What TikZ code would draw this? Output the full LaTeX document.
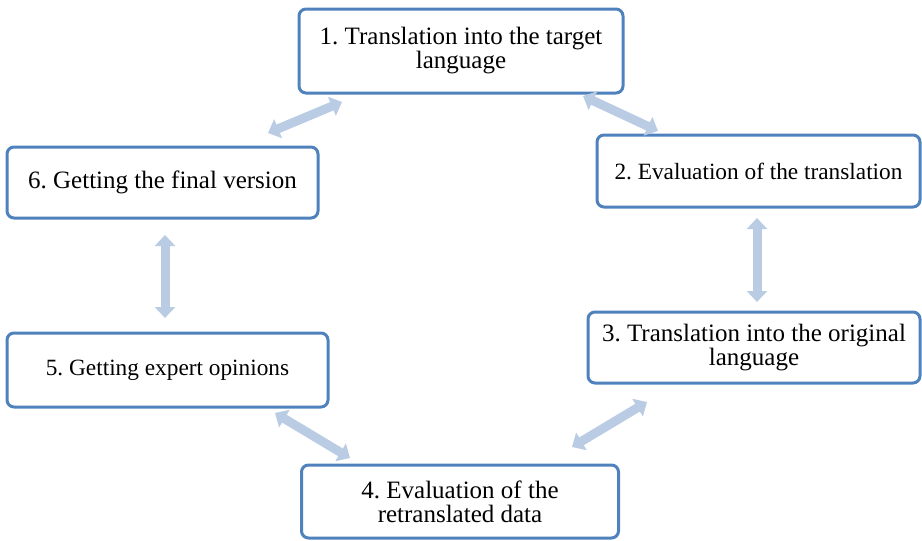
\documentclass[tikz,border=0pt]{standalone}
\usepackage{fontspec}
\setmainfont{Liberation Serif}
\usetikzlibrary{arrows.meta}
\definecolor{boxline}{RGB}{79,129,189}
\definecolor{arrowc}{RGB}{185,204,228}
\tikzset{
  stepbox/.style={draw=boxline, line width=3pt, rounded corners=7pt, fill=white,
    align=center, inner sep=0pt, font=\fontsize{25}{24}\selectfont},
  smalltext/.style={font=\fontsize{23.3}{24}\selectfont},
  link/.style={draw=arrowc, line width=9pt,
    {Triangle[width=20pt,length=11pt]}-{Triangle[width=20pt,length=11pt]}}
}
\frenchspacing
\begin{document}
\begin{tikzpicture}[x=1pt,y=-1pt]
\useasboundingbox (0,0) rectangle (922,541);
\node[stepbox, minimum width=324pt, minimum height=84pt] (n1) at (461,51)
  {1. Translation into the target\\language};
\node[stepbox, smalltext, minimum width=323pt, minimum height=72pt] (n2) at (758.5,171)
  {2. Evaluation of the translation};
\node[stepbox, minimum width=332pt, minimum height=71pt] (n3) at (754,347.5)
  {3. Translation into the original\\language};
\node[stepbox, minimum width=317pt, minimum height=73pt] (n4) at (460,501.5)
  {4. Evaluation of the\\retranslated data};
\node[stepbox, smalltext, minimum width=321pt, minimum height=74pt] (n5) at (167.5,370)
  {5. Getting expert opinions};
\node[stepbox, minimum width=311pt, minimum height=71pt] (n6) at (162.5,182.5)
  {6. Getting the final version};

\coordinate (a16) at (342,102);
\coordinate (a61) at (268,133);
\coordinate (a12) at (583,96);
\coordinate (a21) at (658,131);
\coordinate (a23) at (757,218);
\coordinate (a32) at (757,302);
\coordinate (a65) at (165,235);
\coordinate (a56) at (165,318);
\coordinate (a54) at (275,413);
\coordinate (a45) at (350,458);
\coordinate (a43) at (572,447);
\coordinate (a34) at (647,402);

\draw[link] (a61) -- (a16);
\draw[link] (a12) -- (a21);
\draw[link] (a23) -- (a32);
\draw[link] (a65) -- (a56);
\draw[link] (a54) -- (a45);
\draw[link] (a43) -- (a34);
\end{tikzpicture}
\end{document}
